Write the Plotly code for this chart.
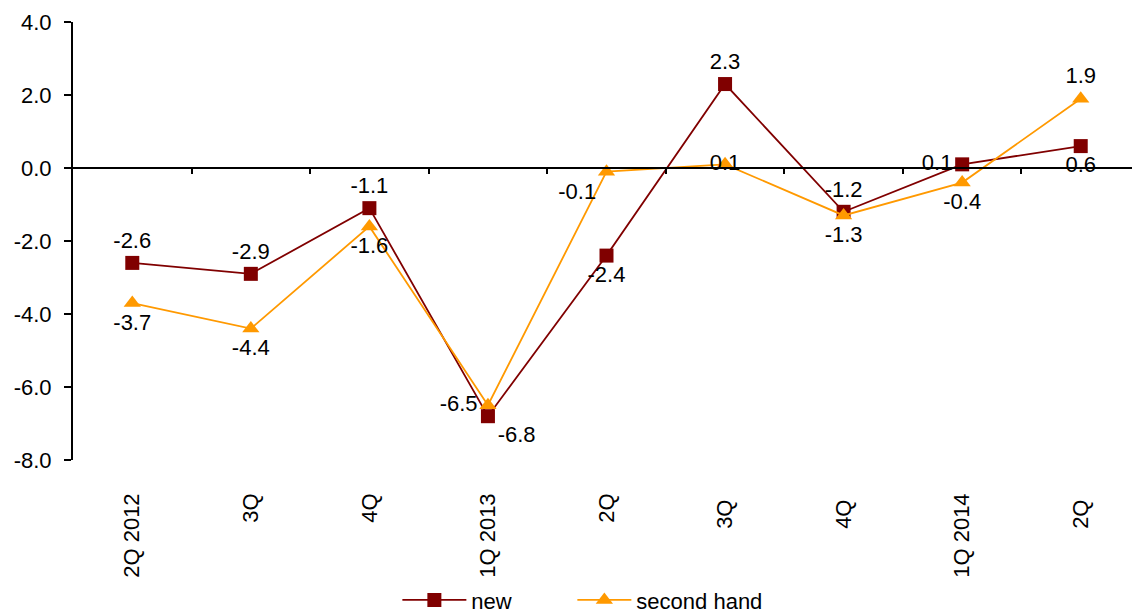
import plotly.graph_objects as go

categories = ["2Q 2012", "3Q", "4Q", "1Q 2013", "2Q", "3Q ", "4Q ", "1Q 2014", "2Q "]
new_vals = [-2.6, -2.9, -1.1, -6.8, -2.4, 2.3, -1.2, 0.1, 0.6]
second_vals = [-3.7, -4.4, -1.6, -6.5, -0.1, 0.1, -1.3, -0.4, 1.9]
y_ticks = [-8, -6, -4, -2, 0, 2, 4]
boundaries = [i + 0.5 for i in range(len(categories) - 1)]

new_pos = ["top center", "top center", "top center", "bottom right", "bottom center",
           "top center", "top center", "middle left", "bottom center"]
second_pos = ["bottom center", "bottom center", "bottom center", "middle left", "bottom left",
              "middle center", "bottom center", "bottom center", "top center"]

FONT = "Liberation Sans, Arial, sans-serif"
fs = 22
x_idx = list(range(len(categories)))

fig = go.Figure()
fig.add_trace(go.Scatter(
    x=x_idx, y=new_vals, name="new", mode="lines+markers+text",
    line=dict(color="#800000", width=1.8),
    marker=dict(symbol="square", size=14, color="#800000"),
    text=[f"{v:.1f}" for v in new_vals], textposition=new_pos,
    textfont=dict(size=fs, color="black", family=FONT),
    legend="legend",
))
fig.add_trace(go.Scatter(
    x=x_idx, y=second_vals, name="second hand", mode="lines+markers+text",
    line=dict(color="#FF9900", width=1.8),
    marker=dict(symbol="triangle-up", size=15, color="#FF9900"),
    text=[f"{v:.1f}" for v in second_vals], textposition=second_pos,
    textfont=dict(size=fs, color="black", family=FONT),
    legend="legend2",
))
# invisible trace to create the zero-line axis
fig.add_trace(go.Scatter(x=[0], y=[0], xaxis="x2", mode="markers",
                         marker=dict(opacity=0), showlegend=False, hoverinfo="skip"))

leg_common = dict(orientation="h", y=-0.32, yanchor="middle", xanchor="left",
                  font=dict(size=fs), bgcolor="rgba(0,0,0,0)")

fig.update_layout(
    width=1132, height=612,
    margin=dict(l=65, r=0, t=14, b=160, autoexpand=False),
    paper_bgcolor="white", plot_bgcolor="white",
    font=dict(family=FONT, size=fs, color="black"),
    showlegend=True,
    legend=dict(x=0.304, itemwidth=64, **leg_common),
    legend2=dict(x=0.468, itemwidth=54, **leg_common),
    xaxis=dict(
        range=[-0.5, len(categories) - 0.5], automargin=False,
        tickmode="array", tickvals=x_idx, ticktext=categories,
        tickangle=-90, showline=False, ticks="", showgrid=False, zeroline=False,
        ticklabelstandoff=28, tickfont=dict(size=fs),
    ),
    xaxis2=dict(
        overlaying="x", anchor="free", position=8 / 12, side="bottom", automargin=False,
        range=[-0.5, len(categories) - 0.5],
        tickmode="array", tickvals=boundaries, showticklabels=False,
        ticks="outside", ticklen=5, tickcolor="black", tickwidth=1.5,
        showline=True, linecolor="black", linewidth=2, showgrid=False, zeroline=False,
    ),
    yaxis=dict(
        range=[-8, 4], automargin=False,
        tickmode="array", tickvals=y_ticks, ticktext=[f"{v:.1f}" for v in y_ticks],
        showline=True, linecolor="black", linewidth=2,
        ticks="outside", ticklen=7, tickcolor="black", tickwidth=1.5,
        showgrid=False, zeroline=False, ticklabelstandoff=8,
        tickfont=dict(size=fs),
    ),
)

fig.write_html("out.html")
